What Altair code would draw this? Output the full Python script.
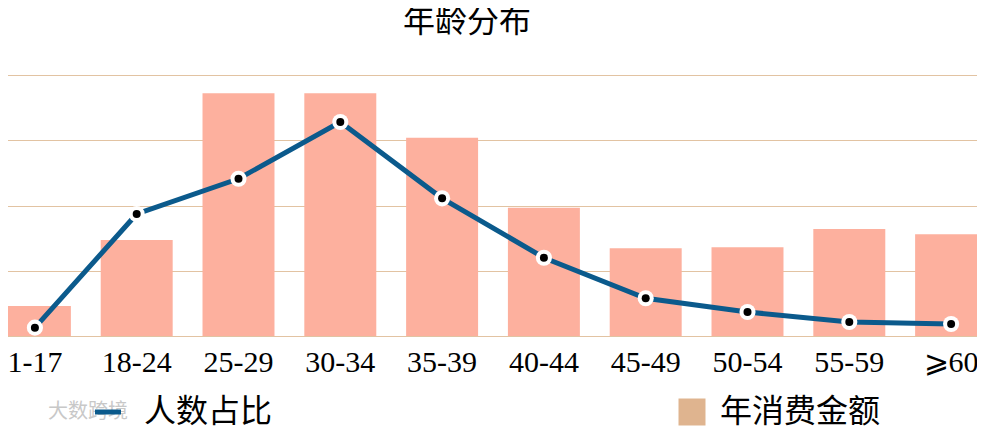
import altair as alt
import pandas as pd

categories = ["1-17", "18-24", "25-29", "30-34", "35-39", "40-44", "45-49", "50-54", "55-59", "⩾60"]
spending = [2.3, 7.36, 18.6, 18.6, 15.2, 9.83, 6.72, 6.8, 8.2, 7.8]
share = [0.64, 9.35, 12.05, 16.4, 10.55, 6.0, 2.89, 1.84, 1.07, 0.92]
bar_series = "年消费金额"
line_series = "人数占比"
watermark = ["大数跨境"]

df = pd.DataFrame({"cat": categories, "spend": spending, "share": share,
                   "s1": bar_series, "s2": line_series})

CJK = "Noto Sans CJK SC"

x = alt.X("cat:N", sort=categories,
          scale=alt.Scale(paddingInner=0.293, paddingOuter=0.1465),
          axis=alt.Axis(title=None, labelAngle=0, domain=False, ticks=False,
                        labelFont="Liberation Serif", labelFontSize=30,
                        labelColor="black", labelPadding=11, grid=False,
                        labelOverlap=False))
yscale = alt.Scale(domain=[0, 20], nice=False)
yaxis = alt.Axis(title=None, labels=False, ticks=False, domain=False, grid=True,
                 gridColor="#E2C3A2", gridWidth=1, values=[0, 5, 10, 15, 20])

base = alt.Chart(df)

bars = base.mark_bar(color="#FDB09E").encode(
    x=x,
    y=alt.Y("spend:Q", scale=yscale, axis=yaxis),
)

# zero-height bars that only carry the legend entry (legend swatch colour differs from bars)
bar_key = base.mark_bar().encode(
    x=x,
    y=alt.Y("zero:Q", scale=yscale, axis=yaxis),
    fill=alt.Fill("s1:N", scale=alt.Scale(range=["#DFB48F"]),
                  legend=alt.Legend(title=None, orient="none", legendX=692, legendY=321,
                                    labelFont=CJK, labelFontSize=32, labelColor="black",
                                    symbolType="square", symbolSize=729, labelOffset=12,
                                    labelLimit=400, padding=0, symbolStrokeWidth=0)),
).transform_calculate(zero="0")

line = base.mark_line(strokeWidth=5).encode(
    x=x,
    y=alt.Y("share:Q", scale=yscale, axis=yaxis),
    stroke=alt.Stroke("s2:N", scale=alt.Scale(range=["#0B5A8C"]),
                      legend=alt.Legend(title=None, orient="none", legendX=108, legendY=321,
                                        labelFont=CJK, labelFontSize=32, labelColor="black",
                                        symbolType="stroke", symbolSize=676, labelLimit=400,
                                        symbolStrokeWidth=5, labelOffset=20, padding=0)),
)

pts_white = base.mark_point(filled=True, shape="circle", size=260, color="white", opacity=1).encode(
    x=x, y=alt.Y("share:Q", scale=yscale, axis=yaxis))
pts_black = base.mark_point(filled=True, shape="circle", size=64, color="black", opacity=1).encode(
    x=x, y=alt.Y("share:Q", scale=yscale, axis=yaxis))

wm = alt.Chart(pd.DataFrame({"t": watermark})).mark_text(
    font=CJK, fontSize=20, color="#C8C8C8", align="left", baseline="middle"
).encode(text="t:N", x=alt.value(64), y=alt.value(337))

chart = alt.layer(bars, bar_key, line, pts_white, pts_black, wm).properties(
    width=1018, height=261,
    title=alt.TitleParams("年龄分布", font=CJK, fontSize=32, fontWeight="normal",
                          color="black", dx=-26, offset=36),
    autosize=alt.AutoSizeParams(type="none"),
    padding={"left": -24, "top": 67, "right": -25, "bottom": 92},
).configure_view(stroke=None)

chart.save("out.html", embed_options={"renderer": "svg", "actions": False})
